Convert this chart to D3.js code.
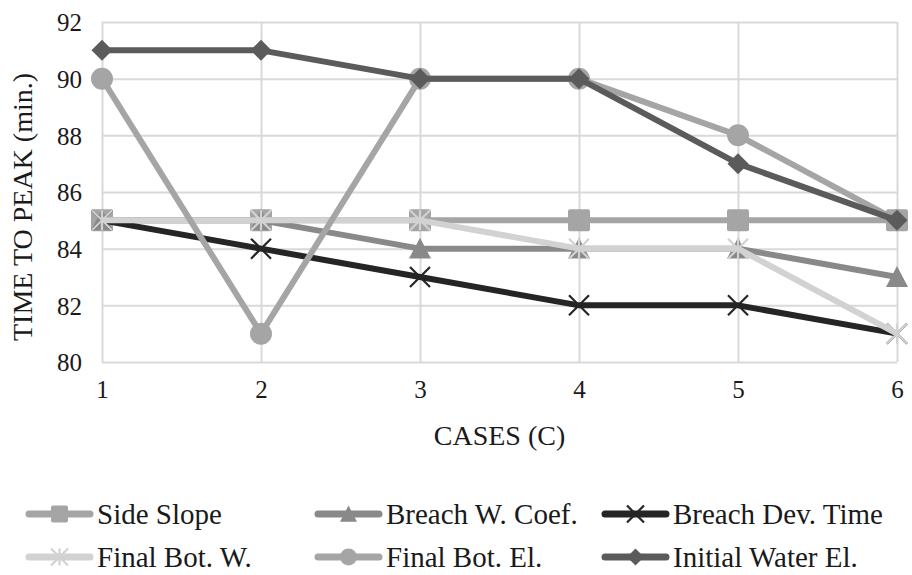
<!DOCTYPE html>
<meta charset="utf-8">
<style>
body { margin: 0; background: #fff; }
svg text { font-family: "Liberation Serif", "Times New Roman", Times, Tinos, "Noto Serif", "DejaVu Serif", FreeSerif, serif !important; fill: #1a1a1a; }
.grid line { stroke: #d9d9d9; stroke-width: 2; }
.grid path { display: none; }
.tick text { font-size: 25px; }
.ttl { font-size: 28px; }
.lg { font-size: 29px; }
</style>
<body>
<svg width="912" height="575"></svg>
</body>
<script src="https://cdn.jsdelivr.net/npm/d3@7"></script>
<script>

var cases = [1, 2, 3, 4, 5, 6];
var yTicks = [80, 82, 84, 86, 88, 90, 92];

var sideSlope   = [85, 85, 85, 85, 85, 85];
var breachCoef  = [85, 85, 84, 84, 84, 83];
var breachTime  = [85, 84, 83, 82, 82, 81];
var finalBotW   = [85, 85, 85, 84, 84, 81];
var finalBotEl  = [90, 81, 90, 90, 88, 85];
var initWaterEl = [91, 91, 90, 90, 87, 85];

var seriesNames = ["Side Slope", "Breach W. Coef.", "Breach Dev. Time",
                   "Final Bot. W.", "Final Bot. El.", "Initial Water El."];

var series = [
  {name: seriesNames[0], vals: sideSlope,   color: "#a5a5a5", mark: "square"},
  {name: seriesNames[1], vals: breachCoef,  color: "#898989", mark: "triangle"},
  {name: seriesNames[2], vals: breachTime,  color: "#252525", mark: "x"},
  {name: seriesNames[3], vals: finalBotW,   color: "#d2d2d2", mark: "star"},
  {name: seriesNames[4], vals: finalBotEl,  color: "#a5a5a5", mark: "circle"},
  {name: seriesNames[5], vals: initWaterEl, color: "#5b5b5b", mark: "diamond"}
];

var svg = d3.select("svg");

var x = d3.scaleLinear().domain([1, 6]).range([102, 897]);
var y = d3.scaleLinear().domain([80, 92]).range([362, 22]);

// grid + axes
svg.append("g")
    .attr("class", "grid")
    .attr("transform", "translate(" + x(1) + ",0)")
    .call(d3.axisLeft(y).tickValues(yTicks).tickFormat(d3.format("d")).tickSize(-(x(6) - x(1))).tickPadding(20))
    .selectAll("text").attr("dy", "0.35em");

svg.append("g")
    .attr("class", "grid")
    .attr("transform", "translate(0," + y(80) + ")")
    .call(d3.axisBottom(x).tickValues(cases).tickFormat(d3.format("d")).tickSize(-(y(80) - y(92))).tickPadding(18));

svg.selectAll(".grid").attr("font-family", null).attr("font-size", null);

// axis titles
svg.append("text")
    .attr("class", "ttl")
    .attr("transform", "translate(22,207) rotate(-90)")
    .attr("text-anchor", "middle")
    .attr("dominant-baseline", "central")
    .text("TIME TO PEAK (min.)");

svg.append("text")
    .attr("class", "ttl")
    .attr("x", (x(1) + x(6)) / 2)
    .attr("y", 445)
    .attr("text-anchor", "middle")
    .text("CASES (C)");

function drawMarker(g, type, color, s) {
  if (type == "square") {
    g.append("rect").attr("x", -s / 2).attr("y", -s / 2).attr("width", s).attr("height", s)
      .attr("rx", 2).attr("fill", color);
  } else if (type == "triangle") {
    g.append("path").attr("d", "M0," + (-s * 0.5) + "L" + (s * 0.5) + "," + (s * 0.45) + "L" + (-s * 0.5) + "," + (s * 0.45) + "Z")
      .attr("fill", color);
  } else if (type == "circle") {
    g.append("circle").attr("r", s / 2).attr("fill", color);
  } else if (type == "diamond") {
    g.append("path").attr("d", "M0," + (-s / 2) + "L" + (s / 2) + ",0L0," + (s / 2) + "L" + (-s / 2) + ",0Z")
      .attr("fill", color);
  } else if (type == "x") {
    var h = s / 2;
    g.append("path").attr("d", "M" + -h + "," + -h + "L" + h + "," + h + "M" + h + "," + -h + "L" + -h + "," + h)
      .attr("stroke", color).attr("stroke-width", 2.2);
  } else if (type == "star") {
    var h = s / 2;
    g.append("path").attr("d", "M" + -h + "," + -h + "L" + h + "," + h + "M" + h + "," + -h + "L" + -h + "," + h + "M0," + -h + "L0," + h)
      .attr("stroke", color).attr("stroke-width", 2.2);
  }
}

var line = d3.line()
    .x(function(d, i) { return x(cases[i]); })
    .y(function(d) { return y(d); });

var markSize = {square: 22, triangle: 22, x: 20, star: 20, circle: 22, diamond: 21};

series.forEach(function(s) {
  var g = svg.append("g");
  g.append("path")
    .attr("d", line(s.vals))
    .attr("fill", "none")
    .attr("stroke", s.color)
    .attr("stroke-width", 6)
    .attr("stroke-linejoin", "round");
  s.vals.forEach(function(v, i) {
    var m = g.append("g").attr("transform", "translate(" + x(cases[i]) + "," + y(v) + ")");
    drawMarker(m, s.mark, s.color, markSize[s.mark]);
  });
});

// legend
var colX = [29, 318, 605];
var rowY = [514, 557];
series.forEach(function(s, i) {
  var cx = colX[i % 3], cy = rowY[Math.floor(i / 3)];
  var g = svg.append("g").attr("transform", "translate(" + cx + "," + cy + ")");
  g.append("line").attr("x1", 0).attr("x2", 61).attr("y1", 0).attr("y2", 0)
    .attr("stroke", s.color).attr("stroke-width", 7).attr("stroke-linecap", "round");
  var m = g.append("g").attr("transform", "translate(30.5,0)");
  drawMarker(m, s.mark, s.color, 17);
  g.append("text").attr("class", "lg")
    .attr("x", 68).attr("y", 0).attr("dy", "0.35em")
    .text(s.name);
});

</script>
